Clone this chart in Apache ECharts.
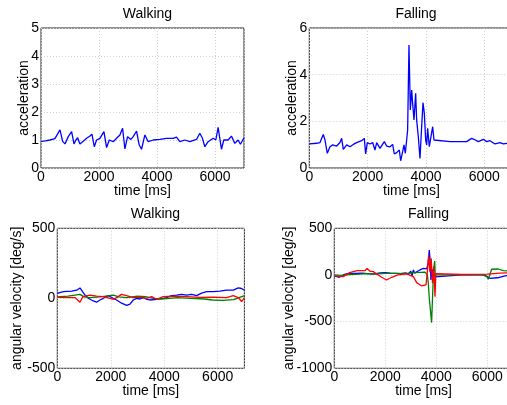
<!DOCTYPE html>
<html>
<head>
<meta charset="utf-8">
<script src="https://cdn.jsdelivr.net/npm/echarts@6/dist/echarts.min.js"></script>
<style>html,body{margin:0;padding:0;background:#fff}#c{width:507px;height:405px}</style>
</head>
<body>
<div id="c"></div>
<script>
// ---- data ----
var titles = ['Walking', 'Falling', 'Walking', 'Falling'];
var xTicks = [0, 2000, 4000, 6000];

var walkAccT = [0,150,310,480,540,655,746,827,940,1056,1137,1205,1263,1343,1435,1573,1688,1757,1837,1917,2032,2170,2262,2354,2491,2606,2721,2813,2893,2985,3100,3180,3295,3387,3467,3582,3697,3869,4099,4328,4558,4673,4788,4960,5132,5362,5476,5568,5649,5763,5936,6028,6108,6223,6303,6452,6567,6682,6797,6877,7000];
var walkAccV = [0.95,0.97,1.0,1.05,1.1,1.36,0.95,0.86,1.12,1.3,0.86,1.0,1.08,0.86,0.94,1.06,1.14,1.21,0.76,1.0,1.06,1.3,0.73,1.0,0.94,1.06,1.18,1.42,0.68,1.12,1.02,1.12,1.32,0.82,0.67,1.18,0.94,1.0,1.02,1.06,1.06,1.1,0.94,1.0,0.94,1.02,1.24,1.06,0.76,0.94,1.06,1.0,1.45,0.67,1.0,1.0,1.14,0.88,1.0,0.85,1.08];

var fallAccT = [0,251,366,480,537,617,709,800,937,1051,1109,1166,1280,1394,1509,1623,1794,1886,1931,1989,2080,2171,2251,2309,2423,2571,2651,2766,2857,2914,2994,3086,3131,3200,3246,3291,3337,3371,3417,3463,3509,3543,3589,3646,3680,3737,3794,3840,3897,3943,3989,4023,4057,4114,4160,4229,4274,4320,4823,5394,5566,5646,5794,5966,6080,6194,6366,6537,6651,6766,7000];
var fallAccV = [1.03,1.06,1.09,1.44,1.2,0.63,0.91,0.99,0.94,1.09,1.27,0.8,0.99,0.91,1.01,1.09,1.17,1.27,0.6,1.09,1.03,1.09,0.77,1.09,0.84,1.13,0.94,0.91,1.01,0.6,0.66,0.77,0.31,0.7,0.99,0.63,1.2,1.63,5.27,2.49,3.34,2.77,2.06,3.2,2.06,1.34,0.41,1.49,2.8,2.34,1.2,0.99,1.7,0.91,0.84,1.77,1.2,1.13,1.13,1.13,1.27,1.23,1.13,1.23,1.13,1.17,1.03,1.09,1.03,1.06,1.06];

var walkGyroBlueT = [0,224,536,723,848,910,1035,1160,1347,1471,1596,1721,1908,2095,2219,2406,2594,2718,2843,2968,3092,3217,3342,3466,3716,3965,4090,4277,4464,4651,4838,5025,5212,5399,5586,5835,6085,6334,6584,6771,6895,6995];
var walkGyroBlueV = [35,47,51,58,74,70,23,0,-19,-28,-12,0,19,0,-12,-35,-51,-42,-12,0,-5,5,-7,-12,-7,0,5,19,23,28,23,28,19,37,47,47,51,58,58,74,70,58];
var walkGyroGreenT = [0,400,850,1000,1200,1600,2100,2300,2600,3000,3300,3600,3900,4500,5000,5500,5800,6200,6600,6800,7000];
var walkGyroGreenV = [10,15,28,10,5,10,23,10,5,15,12,0,-5,5,0,-5,-12,-15,-10,5,19];
var walkGyroRedT = [0,660,848,960,1222,1471,1720,1970,2095,2219,2400,2590,2843,3092,3342,3530,3716,3965,4339,4838,5337,5835,6334,6584,6771,6895,7000];
var walkGyroRedV = [7,5,-28,12,23,16,12,0,-7,5,28,19,5,9,0,12,-7,12,16,12,7,9,5,19,5,-23,5];

var fallGyroBlueT = [0,200,350,500,800,1100,1300,1500,1800,2000,2200,2400,2600,2800,2900,3000,3050,3100,3150,3200,3300,3400,3500,3620,3680,3725,3760,3790,3830,3880,3950,4013,5000,5900,6100,6170,6400,6700,7000];
var fallGyroBlueV = [-10,-25,0,15,18,20,15,10,22,25,20,18,15,22,10,40,-10,54,20,30,45,60,71,65,120,268,150,-54,60,30,-20,0,0,0,-36,-46,-30,-10,0];
var fallGyroGreenT = [0,300,600,1000,1300,1600,2000,2400,2800,3165,3560,3650,3686,3730,3817,3860,3900,3935,3960,4010,5000,5800,5977,6040,6170,6210,6430,6630,7000];
var fallGyroGreenV = [0,-5,5,10,15,10,18,18,15,25,30,0,-89,-268,-510,-180,60,150,0,0,0,0,-18,-46,61,71,64,46,40];
var fallGyroRedT = [0,350,600,900,1200,1290,1400,1530,1660,1860,2050,2250,2500,2840,3100,3230,3430,3595,3650,3700,3750,3800,3850,3900,3948,3980,4040,5000,6000,6500,7000];
var fallGyroRedV = [-10,-18,25,46,46,71,40,36,11,-25,-54,-25,0,11,-18,-82,-118,-107,36,214,30,179,-89,89,-232,15,0,5,10,20,25];

// ---- chart ----
function pairs(t, v) { return t.map(function (x, i) { return [x, v[i]]; }); }
var FONT = '"Liberation Sans", Arial, Helvetica, sans-serif';
var grids = [
  {left: 41, top: 28, width: 203, height: 140},
  {left: 309.3, top: 28, width: 204.2, height: 140},
  {left: 57.3, top: 228.3, width: 187.1, height: 140},
  {left: 334.3, top: 228.3, width: 178.5, height: 140}
];
grids.forEach(function (g) {
  g.show = true; g.borderColor = '#262626'; g.borderWidth = 1; g.backgroundColor = 'transparent';
  g.containLabel = false; g.outerBoundsMode = 'none';
});

var yCfg = [
  {min: 0, max: 5, interval: 1, name: 'acceleration', gap: 10},
  {min: 0, max: 6, interval: 2, name: 'acceleration', gap: 10},
  {min: -500, max: 500, interval: 500, name: 'angular velocity [deg/s]', gap: 33},
  {min: -1000, max: 500, interval: 500, name: 'angular velocity [deg/s]', gap: 38}
];
var splitStyle = {show: true, lineStyle: {color: '#cfcfcf', type: [1, 2], width: 1}};
var xAxes = grids.map(function (g, i) {
  return {
    type: 'value', gridIndex: i, min: 0, max: 7000, interval: 2000,
    name: 'time [ms]', nameLocation: 'middle', nameGap: 16, nameMoveOverlap: false,
    nameTextStyle: {fontFamily: FONT, fontSize: 14, color: '#000'},
    axisLine: {show: false}, axisTick: {show: false},
    axisLabel: {fontFamily: FONT, fontSize: 14, color: '#000', margin: 2,
      formatter: function (v) { return xTicks.indexOf(v) >= 0 ? String(v) : ''; }},
    splitLine: splitStyle
  };
});
var yAxes = yCfg.map(function (c, i) {
  return {
    type: 'value', gridIndex: i, min: c.min, max: c.max, interval: c.interval,
    name: c.name, nameLocation: 'middle', nameGap: c.gap, nameMoveOverlap: false,
    nameTextStyle: {fontFamily: FONT, fontSize: 14, color: '#000'},
    axisLine: {show: false}, axisTick: {show: false},
    axisLabel: {fontFamily: FONT, fontSize: 14, color: '#000', margin: 2,
      formatter: function (v) { return String(v); }},
    splitLine: splitStyle
  };
});
function line(i, t, v, color) {
  return {type: 'line', xAxisIndex: i, yAxisIndex: i, data: pairs(t, v), showSymbol: false,
    symbol: 'none', lineStyle: {color: color, width: 1.3}, itemStyle: {color: color}, animation: false, clip: true};
}
var BLUE = '#0000ff', GREEN = '#008000', RED = '#ff0000';
var titleCfg = [
  {left: 142.5, top: 2}, {left: 411, top: 2}, {left: 150.5, top: 202}, {left: 423.5, top: 202}
];
var chart = echarts.init(document.getElementById('c'), null, {renderer: 'canvas'});
chart.setOption({
  animation: false,
  backgroundColor: '#fff',
  title: titleCfg.map(function (t, i) {
    return {text: titles[i], left: t.left, top: t.top, textAlign: 'center',
      textStyle: {fontFamily: FONT, fontSize: 14, fontWeight: 'normal', color: '#000'}};
  }),
  grid: grids,
  xAxis: xAxes,
  yAxis: yAxes,
  series: [
    line(0, walkAccT, walkAccV, BLUE),
    line(1, fallAccT, fallAccV, BLUE),
    line(2, walkGyroBlueT, walkGyroBlueV, BLUE),
    line(2, walkGyroGreenT, walkGyroGreenV, GREEN),
    line(2, walkGyroRedT, walkGyroRedV, RED),
    line(3, fallGyroBlueT, fallGyroBlueV, BLUE),
    line(3, fallGyroGreenT, fallGyroGreenV, GREEN),
    line(3, fallGyroRedT, fallGyroRedV, RED)
  ]
});
</script>
</body>
</html>
